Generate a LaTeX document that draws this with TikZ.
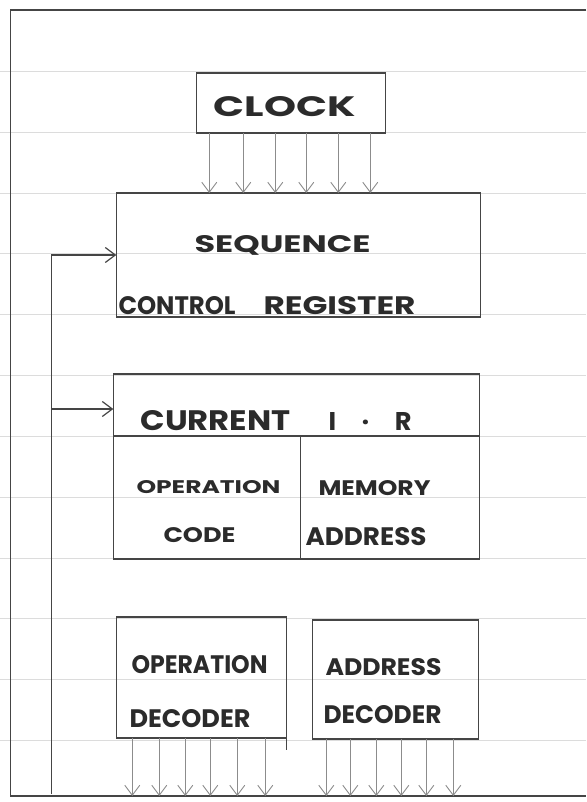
\documentclass[tikz,border=0pt]{standalone}
\usepackage{fontspec}
\setmainfont{Poppins}
\usetikzlibrary{arrows.meta, positioning}
\definecolor{pencil}{HTML}{454545}
\definecolor{faint}{HTML}{8C8C8C}
\definecolor{ink}{HTML}{2B2B2B}
\definecolor{ruling}{HTML}{DCDCDC}
\newcommand{\hand}[3]{\resizebox{#1pt}{#2pt}{\bfseries #3}}

\begin{document}
\begin{tikzpicture}[x=1pt, y=-1pt, >={Straight Barb[length=10pt, width=15pt]},
    box/.style={draw=pencil, line width=1.2pt, inner sep=0pt, outer sep=0pt},
    wire/.style={draw=pencil, line width=1.2pt},
    pulse/.style={draw=faint, line width=0.9pt, ->},
    word/.style={anchor=base west, inner sep=0pt, text=ink}]

    % Giấy kẻ dòng
    \fill[white] (0,0) rectangle (586,802);
    \foreach \y in {71,132,193,253,314,375,436,497,558,618,679,740}
        \draw[ruling, line width=0.6pt] (0,\y) -- (586,\y);

    % Các khối
    \node[box, minimum width=189pt, minimum height=60pt] (clock) at (290.5,103) {};
    \node[box, minimum width=364pt, minimum height=124pt] (seq) at (298,255) {};
    \node[box, minimum width=366pt, minimum height=185pt] (ir) at (296,466.5) {};
    \node[box, minimum width=170pt, minimum height=121pt] (opdec) at (201,677.5) {};
    \node[box, minimum width=166pt, minimum height=119pt] (addrdec) at (395,679.5) {};

    % Chia ô thanh ghi lệnh
    \draw[wire] ([yshift=-62pt]ir.north west) -- ([yshift=-62pt]ir.north east);
    \draw[wire] ([xshift=187pt]ir.south west) -- ([xshift=187pt, yshift=-62pt]ir.north west);
    \draw[wire] (opdec.south east) -- ++(0,12);

    % Chữ
    \node[word] (clktext) at (213,117) {\hand{142}{20}{CLOCK}};
    \node[word] (seqtext) at (194,252) {\hand{176}{17}{SEQUENCE}};
    \node[word] (ctltext) at (118,314) {\hand{117}{18}{CONTROL}};
    \node[word] (regtext) at (263,314) {\hand{152}{18}{REGISTER}};
    \node[word] (curtext) at (140,430) {\hand{150}{20}{CURRENT}};
    \node[word] (irtext) at (328,430) {\resizebox{!}{18pt}{\bfseries I\hspace{1em}\textperiodcentered\hspace{1em}R}};
    \node[word] (optext) at (136,493) {\hand{144}{13}{OPERATION}};
    \node[word] (codetext) at (163,542) {\hand{72}{15}{CODE}};
    \node[word] (memtext) at (318,495) {\hand{112}{15}{MEMORY}};
    \node[word] (adtext) at (305,545) {\hand{121}{18}{ADDRESS}};
    \node[word] (opdtext) at (131,673) {\hand{136}{18}{OPERATION}};
    \node[word] (decatext) at (129,727) {\hand{121}{18}{DECODER}};
    \node[word] (addtext) at (325,675) {\hand{116}{17}{ADDRESS}};
    \node[word] (decbtext) at (323,723) {\hand{118}{18}{DECODER}};

    % Khung ngoài
    \coordinate (tr) at (586,10);
    \coordinate (tl) at (10,10);
    \coordinate (bl) at (10,796);
    \coordinate (br) at (586,796);
    \draw[wire] (tr) -- (tl) -- (bl) -- (br);

    % Đường hồi tiếp
    \coordinate (fb) at (51,794);
    \coordinate (irin) at ([yshift=-35pt]ir.north west);
    \draw[wire, ->] (fb) |- (seq.west);
    \draw[wire, ->] (fb |- irin) -- (irin);

    % Xung đồng hồ
    \foreach \dx in {13,47,79,110,142,174} {
        \path (clock.south west) ++(\dx,0) coordinate (ck);
        \draw[pulse] (ck) -- (ck |- seq.north);
    }

    % Đầu ra bộ giải mã
    \foreach \dx in {16,43,69,94,121,149} {
        \path (opdec.south west) ++(\dx,0) coordinate (od);
        \draw[pulse] (od) -- (od |- bl);
    }
    \foreach \dx in {14,38,64,89,114,141} {
        \path (addrdec.south west) ++(\dx,0) coordinate (ad);
        \draw[pulse] (ad) -- (ad |- bl);
    }

\end{tikzpicture}
\end{document}
